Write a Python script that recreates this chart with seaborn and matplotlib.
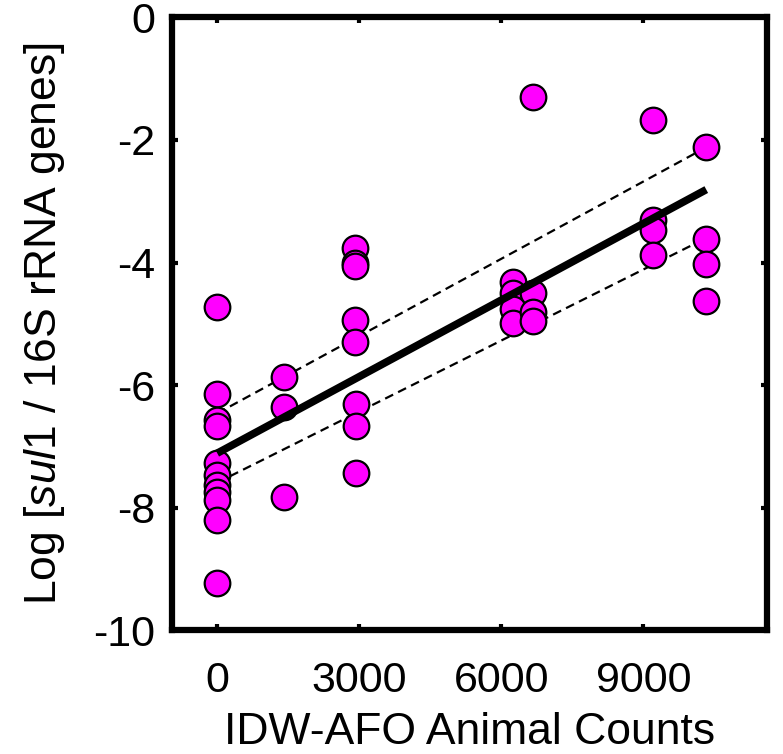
import numpy as np
import pandas as pd
import matplotlib
matplotlib.use("Agg")
import matplotlib.pyplot as plt
import seaborn as sns

# Datos
x_vals = [0, 0, 0, 0, 0, 0, 0, 0, 0, 0, 0,
          1400, 1400, 1400,
          2900, 2900, 2900, 2900, 2900, 2940, 2940, 2940,
          6250, 6250, 6250, 6250, 6680, 6680, 6680, 6680,
          9210, 9210, 9210, 9210,
          10330, 10330, 10330, 10330]
y_vals = [-4.73, -6.15, -6.57, -6.67, -7.27, -7.47, -7.63, -7.75, -7.88, -8.2, -9.22,
          -5.87, -6.35, -7.83,
          -3.77, -4.0, -4.05, -4.94, -5.30, -6.31, -6.67, -7.44,
          -4.32, -4.5, -4.75, -4.98, -1.3, -4.5, -4.8, -4.95,
          -1.67, -3.31, -3.47, -3.87,
          -2.12, -3.61, -4.02, -4.62]

# Recta de ajuste y bandas (extremos leídos)
fit_x = [0, 10330]
fit_y = [-7.11, -2.81]
upper_y = [-6.46, -2.12]
lower_y = [-7.59, -3.60]

xticks = [0, 3000, 6000, 9000]
yticks = [-10, -8, -6, -4, -2, 0]

data = pd.DataFrame({'x': x_vals, 'y': y_vals})
lines = pd.DataFrame({'x': fit_x, 'fit': fit_y, 'upper': upper_y, 'lower': lower_y})

sns.set_theme(style="ticks")
plt.rcParams['font.family'] = ['Liberation Sans', 'DejaVu Sans']
plt.rcParams['mathtext.fontset'] = 'custom'
plt.rcParams['mathtext.rm'] = 'Liberation Sans'
plt.rcParams['mathtext.it'] = 'Liberation Sans:italic'
plt.rcParams['axes.unicode_minus'] = False
plt.rcParams['text.color'] = 'black'
plt.rcParams['axes.labelcolor'] = 'black'
plt.rcParams['xtick.color'] = 'black'
plt.rcParams['ytick.color'] = 'black'

fig, ax = plt.subplots(figsize=(7.83, 7.54), dpi=100)
fig.subplots_adjust(left=0.22, right=0.98, top=0.977, bottom=0.164)

sns.lineplot(data=lines, x='x', y='upper', ax=ax, color='black', lw=1.6,
             linestyle=(0, (4, 2.5)), zorder=1)
sns.lineplot(data=lines, x='x', y='lower', ax=ax, color='black', lw=1.6,
             linestyle=(0, (4, 2.5)), zorder=1)
sns.scatterplot(data=data, x='x', y='y', ax=ax, s=340, color='#ff00ff',
                edgecolor='black', linewidth=1.6, zorder=2)
sns.lineplot(data=lines, x='x', y='fit', ax=ax, color='black', lw=5.5, zorder=3,
             solid_capstyle='butt')

ax.set_xlim(-950, 11620)
ax.set_ylim(-10, 0)
ax.set_xticks(xticks)
ax.set_yticks(yticks)
ax.tick_params(direction='in', length=4, width=3, labelsize=31, pad=22,
               top=True, right=True)
ax.tick_params(axis='y', pad=12)
for s in ax.spines.values():
    s.set_linewidth(4.5)
    s.set_color('black')

ax.set_xlabel('IDW-AFO Animal Counts', fontsize=32, labelpad=8)
ax.set_ylabel(r'Log [$\mathit{sul}$1 / 16S rRNA genes]', fontsize=32, labelpad=19)

plt.savefig('out.png', dpi=100)
